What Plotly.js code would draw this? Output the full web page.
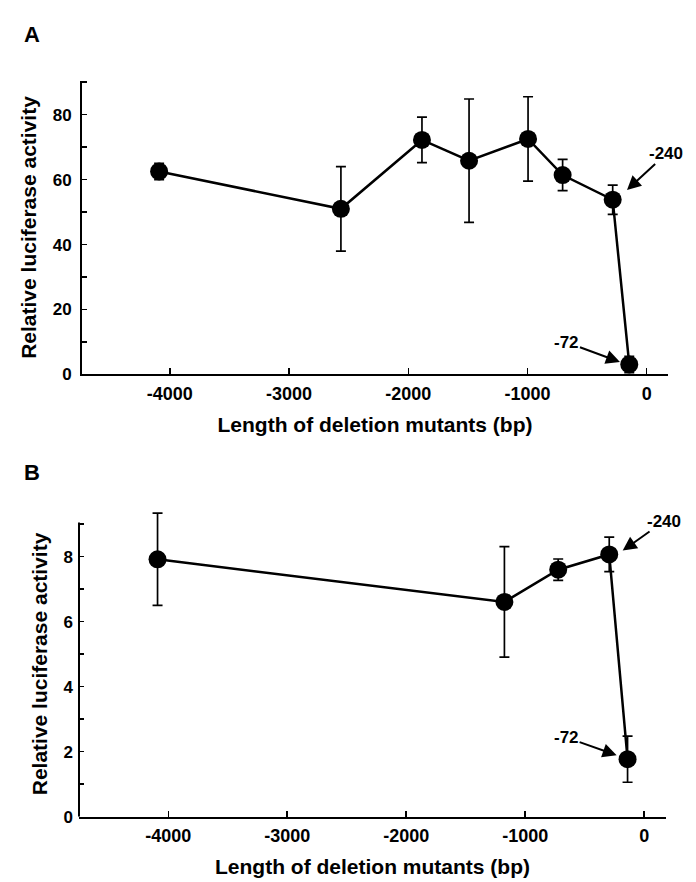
<!DOCTYPE html>
<html>
<head>
<meta charset="utf-8">
<script src="https://cdn.plot.ly/plotly-3.0.1.min.js"></script>
<style>html,body{margin:0;padding:0;background:#fff;}#chart{width:696px;height:882px;}</style>
</head>
<body>
<div id="chart"></div>
<script>
// Panel A data
const xA = [-4090, -2565, -1885, -1490, -995, -705, -285, -146];
const yA = [62.5, 51.0, 72.2, 65.8, 72.5, 61.4, 53.8, 3.1];
const errA = [2.5, 13, 7, 19, 13, 4.8, 4.5, 2.5];
// Panel B data
const xB = [-4090, -1175, -723, -294, -140];
const yB = [7.92, 6.61, 7.60, 8.07, 1.77];
const errB = [1.42, 1.70, 0.33, 0.53, 0.71];
// tick labels
const xTickVals = [-4000, -3000, -2000, -1000, 0];
const xTickText = ['-4000', '-3000', '-2000', '-1000', '0'];
const yTickValsA = [0, 20, 40, 60, 80];
const yTickValsB = [0, 2, 4, 6, 8];
// labels
const panelLabels = ['A', 'B'];
const pointLabels = ['-240', '-72'];
const xTitle = 'Length of deletion mutants (bp)';
const yTitle = 'Relative luciferase activity';

const FONT = 'Liberation Sans, Arial, Helvetica, sans-serif';

function series(x, y, e, xa, ya) {
  return {
    x: x, y: y, xaxis: xa, yaxis: ya, type: 'scatter', mode: 'lines+markers',
    line: {color: '#000', width: 2.5},
    marker: {color: '#000', size: 18, symbol: 'circle'},
    error_y: {type: 'data', array: e, visible: true, color: '#000', thickness: 1.7, width: 5},
    hoverinfo: 'skip', showlegend: false, cliponaxis: false
  };
}

const data = [series(xA, yA, errA, 'x', 'y'), series(xB, yB, errB, 'x2', 'y2')];

function xaxisCfg(domain, range, anchor) {
  return {
    domain: domain, range: range, anchor: anchor,
    showgrid: false, zeroline: false, showline: true, linecolor: '#000', linewidth: 2,
    ticks: 'inside', ticklen: 6, tickwidth: 1.5, tickcolor: '#000',
    tickmode: 'array', tickvals: xTickVals, ticktext: xTickText,
    tickfont: {family: FONT, size: 18, color: '#000', weight: 'bold'},
    ticklabelstandoff: 2,
    title: {text: xTitle, font: {family: FONT, size: 21, color: '#000', weight: 'bold'}, standoff: 14},
    automargin: false, fixedrange: true
  };
}
function yaxisCfg(domain, range, anchor, vals, showline) {
  const step = vals[1] - vals[0];
  return {
    domain: domain, range: range, anchor: anchor,
    showgrid: false, zeroline: false, showline: showline, linecolor: '#000', linewidth: 2,
    ticks: 'inside', ticklen: 5, tickwidth: 1.5, tickcolor: '#000',
    tickmode: 'array', tickvals: vals,
    minor: {tickmode: 'linear', tick0: step / 2, dtick: step, ticks: 'inside', ticklen: 5, tickwidth: 1.5, tickcolor: '#000', showgrid: false},
    tickfont: {family: FONT, size: 17, color: '#000', weight: 'bold'},
    ticklabelstandoff: 5,
    title: {text: yTitle, font: {family: FONT, size: 21, color: '#000', weight: 'bold'}, standoff: 10},
    automargin: false, fixedrange: true
  };
}

function arrowAnn(text, x, y, ax, ay, xref, yref) {
  return {
    text: text, x: x, y: y, xref: xref, yref: yref, ax: ax, ay: ay,
    showarrow: true, arrowhead: 2, arrowsize: 1.4, arrowwidth: 2, arrowcolor: '#000',
    font: {family: FONT, size: 17, color: '#000', weight: 'bold'}, borderpad: 0
  };
}

const layout = {
  width: 696, height: 882,
  margin: {l: 0, r: 0, t: 0, b: 0},
  paper_bgcolor: '#fff', plot_bgcolor: '#fff',
  showlegend: false,
  xaxis: xaxisCfg([0.11782, 0.95977], [-4737, 179], 'y'),
  yaxis: yaxisCfg([0.57540, 0.90873], [0, 90.5], 'x', yTickValsA, true),
  xaxis2: xaxisCfg([0.11351, 0.95690], [-4750, 183], 'y2'),
  // panel B plot area extended upward so the top error bar is not clipped; axis line drawn as a shape
  yaxis2: yaxisCfg([0.07404, 0.42038], [0, 9.4], 'x2', yTickValsB, false),
  shapes: [
    {type: 'line', xref: 'x2 domain', yref: 'y2', x0: 0, x1: 0, y0: 0, y1: 9.05,
     line: {color: '#000', width: 2}}
  ],
  annotations: [
    {text: panelLabels[0], xref: 'paper', yref: 'paper', x: 22 / 696, y: 1 - 20 / 882, showarrow: false,
     font: {family: FONT, size: 22, color: '#000', weight: 'bold'}},
    {text: panelLabels[1], xref: 'paper', yref: 'paper', x: 22 / 696, y: 1 - 473 / 882, showarrow: false,
     font: {family: FONT, size: 22, color: '#000', weight: 'bold'}},
    arrowAnn(pointLabels[0], -165, 56.8, 39, -36, 'x', 'y'),
    arrowAnn(pointLabels[1], -224, 3.85, -53, -19.5, 'x', 'y'),
    arrowAnn(pointLabels[0], -181, 8.19, 41, -29, 'x2', 'y2'),
    arrowAnn(pointLabels[1], -232, 1.89, -50, -17.7, 'x2', 'y2')
  ]
};

Plotly.newPlot('chart', data, layout, {displayModeBar: false, staticPlot: true});
</script>
</body>
</html>
